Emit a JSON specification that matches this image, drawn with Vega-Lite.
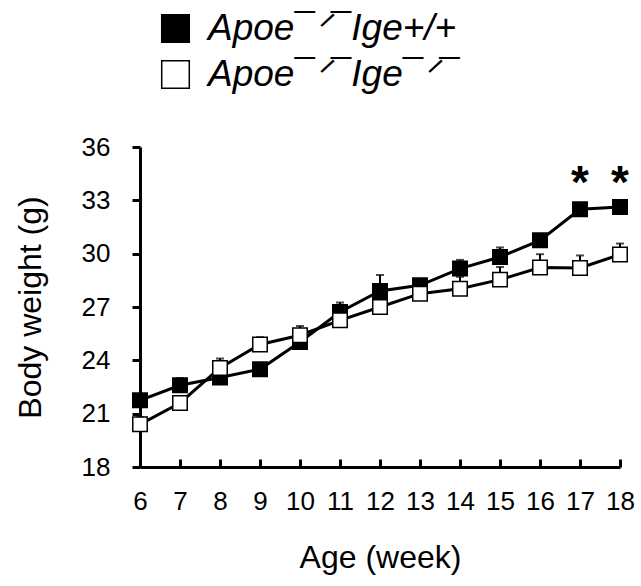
{
  "$schema": "https://vega.github.io/schema/vega-lite/v6.json",
  "autosize": {"type": "none"},
  "padding": {"left": 140, "top": 147, "right": 21, "bottom": 119},
  "width": 480,
  "height": 320,
  "background": "white",
  "config": {
    "view": {"stroke": null},
    "font": "Liberation Sans",
    "axis": {
      "domainColor": "black", "domainWidth": 3, "tickColor": "black", "tickWidth": 3,
      "labelColor": "black", "titleColor": "black", "labelFont": "Liberation Sans",
      "titleFont": "Liberation Sans", "titleFontWeight": "normal", "grid": false
    }
  },
  "datasets": {
    "series": [
      {"week": 6, "group": "Apoe¯ᐟ¯Ige+/+", "weight": 21.75, "upper": 21.95},
      {"week": 7, "group": "Apoe¯ᐟ¯Ige+/+", "weight": 22.6, "upper": 23.0},
      {"week": 8, "group": "Apoe¯ᐟ¯Ige+/+", "weight": 23.03, "upper": 23.1},
      {"week": 9, "group": "Apoe¯ᐟ¯Ige+/+", "weight": 23.5, "upper": 23.6},
      {"week": 10, "group": "Apoe¯ᐟ¯Ige+/+", "weight": 25.03, "upper": 25.2},
      {"week": 11, "group": "Apoe¯ᐟ¯Ige+/+", "weight": 26.72, "upper": 27.25},
      {"week": 12, "group": "Apoe¯ᐟ¯Ige+/+", "weight": 27.9, "upper": 28.8},
      {"week": 13, "group": "Apoe¯ᐟ¯Ige+/+", "weight": 28.22, "upper": 28.45},
      {"week": 14, "group": "Apoe¯ᐟ¯Ige+/+", "weight": 29.16, "upper": 29.65},
      {"week": 15, "group": "Apoe¯ᐟ¯Ige+/+", "weight": 29.81, "upper": 30.35},
      {"week": 16, "group": "Apoe¯ᐟ¯Ige+/+", "weight": 30.75, "upper": 31.0},
      {"week": 17, "group": "Apoe¯ᐟ¯Ige+/+", "weight": 32.5, "upper": 32.7},
      {"week": 18, "group": "Apoe¯ᐟ¯Ige+/+", "weight": 32.63, "upper": 32.8},
      {"week": 6, "group": "Apoe¯ᐟ¯Ige¯ᐟ¯", "weight": 20.4, "upper": 20.8},
      {"week": 7, "group": "Apoe¯ᐟ¯Ige¯ᐟ¯", "weight": 21.6, "upper": 21.9},
      {"week": 8, "group": "Apoe¯ᐟ¯Ige¯ᐟ¯", "weight": 23.57, "upper": 24.1},
      {"week": 9, "group": "Apoe¯ᐟ¯Ige¯ᐟ¯", "weight": 24.89, "upper": 25.3},
      {"week": 10, "group": "Apoe¯ᐟ¯Ige¯ᐟ¯", "weight": 25.41, "upper": 25.93},
      {"week": 11, "group": "Apoe¯ᐟ¯Ige¯ᐟ¯", "weight": 26.25, "upper": 26.6},
      {"week": 12, "group": "Apoe¯ᐟ¯Ige¯ᐟ¯", "weight": 27.0, "upper": 27.3},
      {"week": 13, "group": "Apoe¯ᐟ¯Ige¯ᐟ¯", "weight": 27.75, "upper": 28.1},
      {"week": 14, "group": "Apoe¯ᐟ¯Ige¯ᐟ¯", "weight": 28.03, "upper": 28.7},
      {"week": 15, "group": "Apoe¯ᐟ¯Ige¯ᐟ¯", "weight": 28.54, "upper": 29.25},
      {"week": 16, "group": "Apoe¯ᐟ¯Ige¯ᐟ¯", "weight": 29.22, "upper": 29.97},
      {"week": 17, "group": "Apoe¯ᐟ¯Ige¯ᐟ¯", "weight": 29.2, "upper": 29.9},
      {"week": 18, "group": "Apoe¯ᐟ¯Ige¯ᐟ¯", "weight": 29.95, "upper": 30.57}
    ],
    "stars": [
      {"week": 17, "pos": 34.2, "label": "*"},
      {"week": 18, "pos": 34.2, "label": "*"}
    ]
  },
  "encoding": {
    "x": {
      "field": "week", "type": "quantitative",
      "scale": {"domain": [6, 18], "nice": false, "zero": false},
      "axis": {"values": [6,7,8,9,10,11,12,13,14,15,16,17,18], "title": "Age (week)",
        "tickSize": -8, "labelFontSize": 26, "labelPadding": 29, "titleFontSize": 32,
        "titlePadding": 28, "labelFlush": false}
    },
    "y": {
      "field": "weight", "type": "quantitative",
      "scale": {"domain": [18, 36], "nice": false, "zero": false},
      "axis": {"values": [18, 21, 24, 27, 30, 33, 36], "title": "Body weight (g)",
        "tickSize": 8, "labelFontSize": 26, "labelPadding": 22, "titleFontSize": 32,
        "titlePadding": 34, "labelFlush": false}
    }
  },
  "layer": [
    {
      "data": {"name": "series"},
      "mark": {"type": "rule", "color": "black", "strokeWidth": 2},
      "encoding": {"y2": {"field": "upper"}, "detail": {"field": "group"}}
    },
    {
      "data": {"name": "series"},
      "mark": {"type": "tick", "orient": "horizontal", "color": "black", "thickness": 2, "size": 8},
      "encoding": {"y": {"field": "upper", "type": "quantitative"}}
    },
    {
      "data": {"name": "series"},
      "mark": {"type": "line", "color": "black", "strokeWidth": 3},
      "encoding": {"detail": {"field": "group", "type": "nominal"}}
    },
    {
      "data": {"name": "series"},
      "mark": {"type": "point", "shape": "square", "filled": true, "size": 210, "stroke": "black", "strokeWidth": 1.5, "opacity": 1},
      "encoding": {
        "fill": {
          "field": "group", "type": "nominal",
          "scale": {"domain": ["Apoe¯ᐟ¯Ige+/+", "Apoe¯ᐟ¯Ige¯ᐟ¯"], "range": ["black", "white"]},
          "legend": {
            "title": null, "orient": "none", "legendX": 17, "legendY": -137, "padding": 0,
            "symbolType": "square", "symbolSize": 760, "symbolStrokeColor": "black",
            "symbolStrokeWidth": 1.5, "symbolOpacity": 1,
            "labelFont": "Liberation Sans", "labelFontStyle": "italic", "labelFontSize": 37,
            "labelColor": "black", "labelLimit": 500, "rowPadding": 8, "labelOffset": 14
          }
        },
        "order": {"field": "group", "sort": "ascending"}
      }
    },
    {
      "data": {"name": "stars"},
      "mark": {"type": "text", "fontSize": 46, "fontWeight": "bold", "color": "black", "baseline": "middle", "align": "center", "dy": 5},
      "encoding": {
        "y": {"field": "pos", "type": "quantitative"},
        "text": {"field": "label"}
      }
    }
  ]
}
